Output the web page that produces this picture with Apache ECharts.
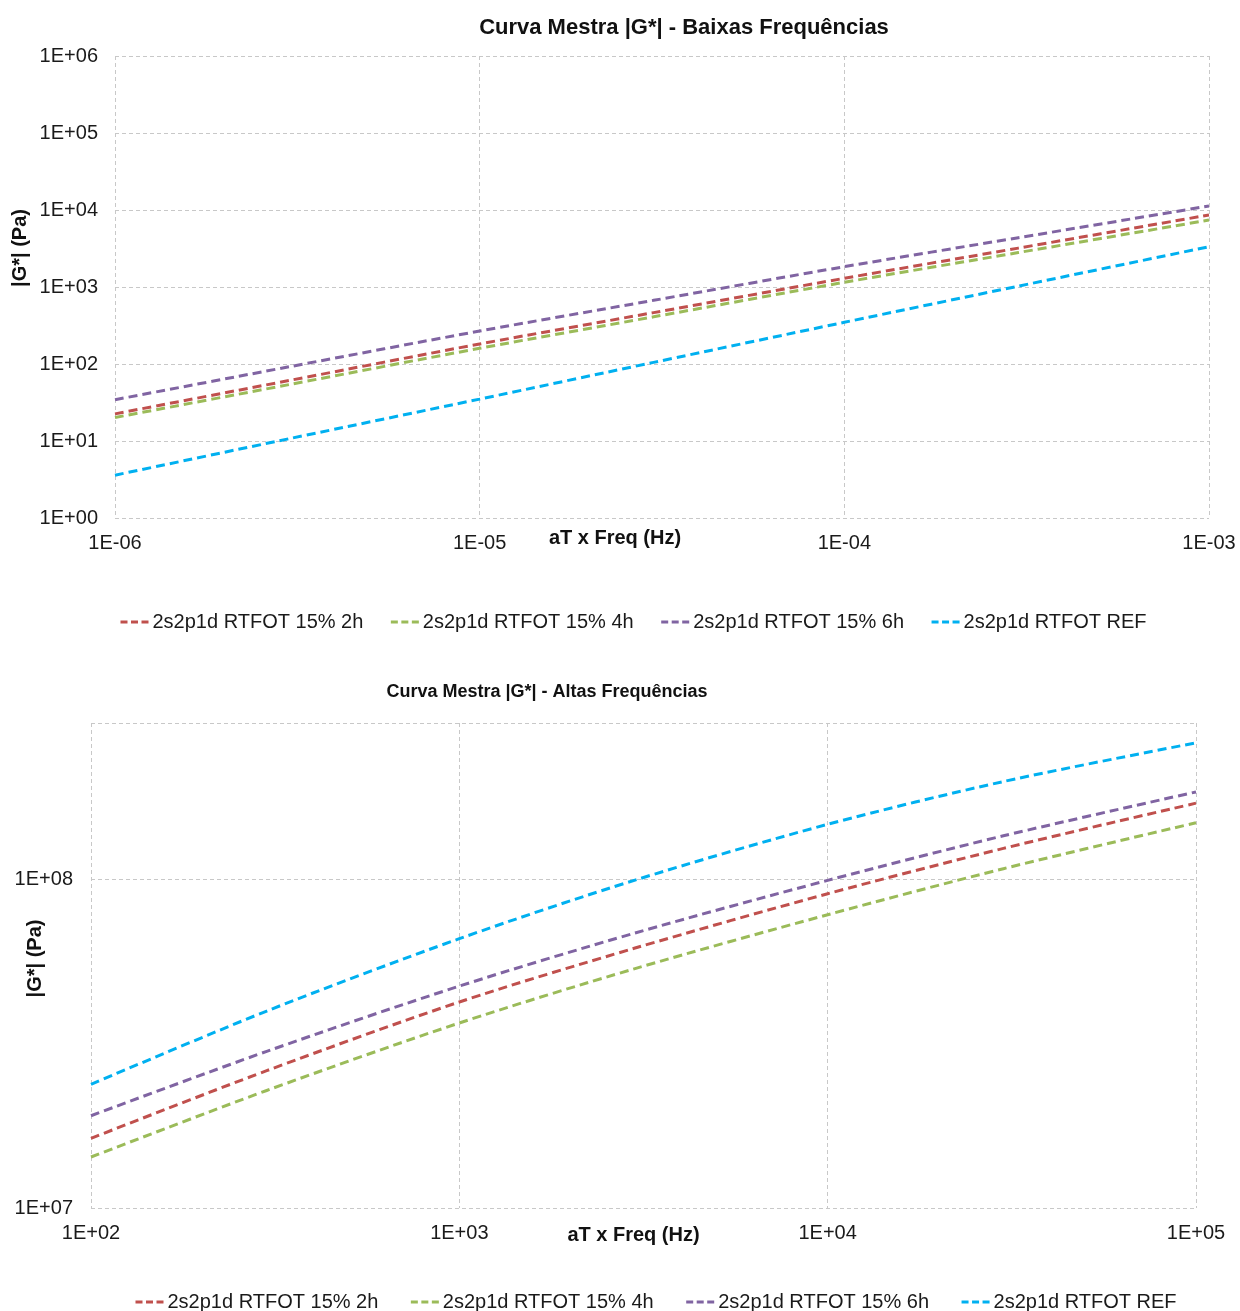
<!DOCTYPE html>
<html>
<head>
<meta charset="utf-8">
<script src="https://cdn.jsdelivr.net/npm/echarts@6/dist/echarts.min.js"></script>
<style>
  html, body { margin: 0; padding: 0; background: #ffffff; }
  #chart { width: 1240px; height: 1311px; }
</style>
</head>
<body>
<div id="chart"></div>
<script>
// Master curves |G*| (2s2p1d model) — low and high reduced-frequency ranges
const seriesNames = ['2s2p1d RTFOT 15% 2h', '2s2p1d RTFOT 15% 4h', '2s2p1d RTFOT 15% 6h', '2s2p1d RTFOT REF'];
const seriesColors = ['#C0504D', '#9BBB59', '#8064A2', '#00B0F0'];

// Low frequencies (Hz) and |G*| (Pa)
const freqLow = [1e-6, 3e-6, 1e-5, 3e-5, 1e-4, 3e-4, 1e-3];
const gLow2h  = [22.5, 61, 182, 465, 1297, 3200, 8610];
const gLow4h  = [20.2, 54, 160, 410, 1151, 2800, 7410];
const gLow6h  = [34.4, 92, 268, 671, 1836, 4365, 11270];
const gLowRef = [3.6, 10.7, 35, 105, 348, 1026, 3337];

// High frequencies (Hz) and |G*| (Pa)
const freqHigh = [1e2, 3e2, 1e3, 3e3, 1e4, 3e4, 1e5];
const gHigh2h  = [1.63e7, 2.62e7, 4.24e7, 6.19e7, 9.06e7, 1.245e8, 1.71e8];
const gHigh4h  = [1.43e7, 2.28e7, 3.66e7, 5.36e7, 7.82e7, 1.08e8, 1.49e8];
const gHigh6h  = [1.91e7, 3.00e7, 4.74e7, 6.88e7, 9.95e7, 1.36e8, 1.85e8];
const gHighRef = [2.38e7, 3.98e7, 6.61e7, 9.97e7, 1.474e8, 1.99e8, 2.61e8];

const lowSets = [gLow2h, gLow4h, gLow6h, gLowRef];
const highSets = [gHigh2h, gHigh4h, gHigh6h, gHighRef];

const FONT = '"Liberation Sans", Arial, sans-serif';

// Excel-style scientific label: 1E+06, 1E-03 ...
function sci(v) {
  const e = Math.round(Math.log10(v));
  return '1E' + (e < 0 ? '-' : '+') + String(Math.abs(e)).padStart(2, '0');
}

const gridLine = { show: true, lineStyle: { color: '#C8C8C8', type: [4, 3], width: 1 } };

function logAxis(extra) {
  return Object.assign({
    type: 'log',
    logBase: 10,
    axisLine: { show: false },
    axisTick: { show: false },
    splitLine: gridLine,
    minorTick: { show: false },
    nameMoveOverlap: false,
    axisLabel: { color: '#1a1a1a', fontFamily: FONT, fontSize: 20, formatter: sci },
    nameTextStyle: { color: '#111', fontFamily: FONT, fontSize: 20, fontWeight: 'bold' }
  }, extra);
}

function pairs(xs, ys) {
  return xs.map((x, i) => [x, ys[i]]);
}

const series = [];
lowSets.forEach((ys, k) => {
  series.push({
    name: seriesNames[k], type: 'line', xAxisIndex: 0, yAxisIndex: 0,
    data: pairs(freqLow, ys), smooth: 0.3, showSymbol: false, symbol: 'none',
    lineStyle: { color: seriesColors[k], width: 3, type: [9, 5] },
    itemStyle: { color: seriesColors[k] }
  });
});
highSets.forEach((ys, k) => {
  series.push({
    name: seriesNames[k], type: 'line', xAxisIndex: 1, yAxisIndex: 1,
    data: pairs(freqHigh, ys), smooth: 0.3, showSymbol: false, symbol: 'none',
    lineStyle: { color: seriesColors[k], width: 3, type: [9, 5] },
    itemStyle: { color: seriesColors[k] }
  });
});

const legendBase = {
  data: seriesNames,
  orient: 'horizontal',
  itemWidth: 30,
  itemHeight: 10,
  itemStyle: { opacity: 0 },
  lineStyle: { width: 3, type: [7, 3.5] },
  textStyle: { color: '#1a1a1a', fontFamily: FONT, fontSize: 20, padding: [0, 0, 0, -3] },
  selectedMode: false
};

const option = {
  backgroundColor: '#ffffff',
  animation: false,
  title: [
    { text: 'Curva Mestra |G*| - Baixas Frequências', left: 679, top: 12, textAlign: 'center',
      textStyle: { fontFamily: FONT, fontSize: 22, fontWeight: 'bold', color: '#111' } },
    { text: 'Curva Mestra |G*| - Altas Frequências', left: 542, top: 678, textAlign: 'center',
      textStyle: { fontFamily: FONT, fontSize: 18, fontWeight: 'bold', color: '#111' } }
  ],
  legend: [
    Object.assign({ left: 114, top: 607, itemGap: 26 }, legendBase),
    Object.assign({ left: 129, top: 1287, itemGap: 31 }, legendBase)
  ],
  grid: [
    { left: 115, top: 56, width: 1094, height: 462, outerBoundsMode: 'none', containLabel: false },
    { left: 91, top: 723, width: 1105, height: 485, outerBoundsMode: 'none', containLabel: false }
  ],
  xAxis: [
    logAxis({ gridIndex: 0, min: 1e-6, max: 1e-3, name: 'aT x Freq (Hz)', nameLocation: 'middle', nameGap: 10,
      axisLabel: { color: '#1a1a1a', fontFamily: FONT, fontSize: 20, formatter: sci, margin: 15 },
      nameTextStyle: { color: '#111', fontFamily: FONT, fontSize: 20, fontWeight: 'bold', padding: [0, 94, 0, 0] } }),
    logAxis({ gridIndex: 1, min: 1e2, max: 1e5, name: 'aT x Freq (Hz)', nameLocation: 'middle', nameGap: 17,
      axisLabel: { color: '#1a1a1a', fontFamily: FONT, fontSize: 20, formatter: sci, margin: 15 },
      nameTextStyle: { color: '#111', fontFamily: FONT, fontSize: 20, fontWeight: 'bold', padding: [0, 20, 0, 0] } })
  ],
  yAxis: [
    logAxis({ gridIndex: 0, min: 1, max: 1e6, name: '|G*| (Pa)', nameLocation: 'middle', nameGap: 85,
      axisLabel: { color: '#1a1a1a', fontFamily: FONT, fontSize: 20, formatter: sci, margin: 17 },
      nameTextStyle: { color: '#111', fontFamily: FONT, fontSize: 20, fontWeight: 'bold', padding: [0, 0, 0, 78] } }),
    logAxis({ gridIndex: 1, min: 1e7, max: 3e8, name: '|G*| (Pa)', nameLocation: 'middle', nameGap: 46,
      axisLabel: { color: '#1a1a1a', fontFamily: FONT, fontSize: 20, formatter: sci, margin: 18, showMaxLabel: false },
      nameTextStyle: { color: '#111', fontFamily: FONT, fontSize: 20, fontWeight: 'bold', padding: [0, 0, 0, 14] } })
  ],
  series: series
};

const chart = echarts.init(document.getElementById('chart'), null, { renderer: 'canvas' });
chart.setOption(option);
</script>
</body>
</html>
